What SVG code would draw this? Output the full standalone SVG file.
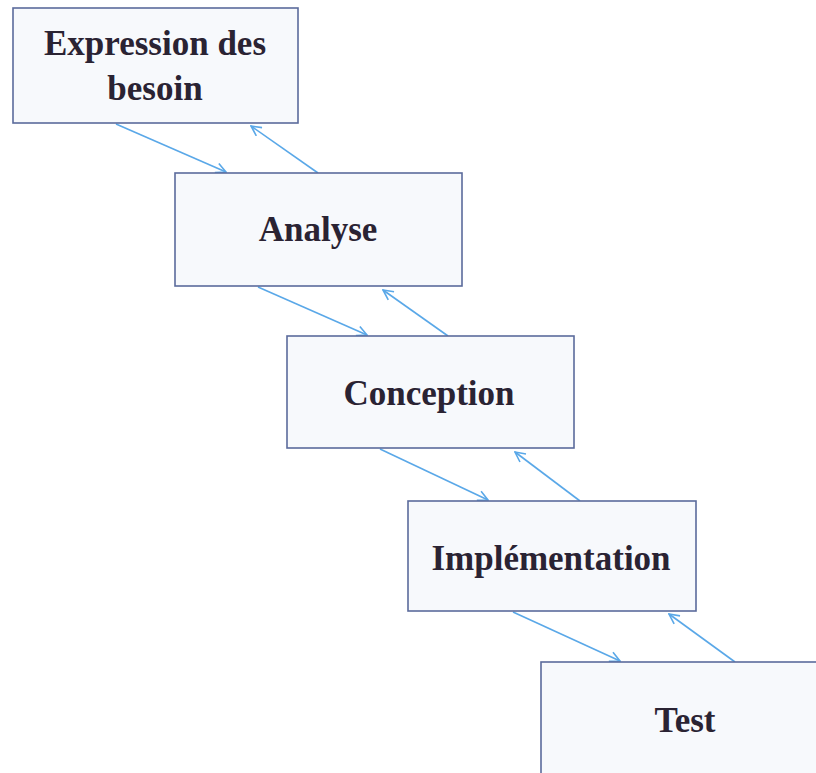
<svg xmlns="http://www.w3.org/2000/svg" width="816" height="773" viewBox="0 0 816 773">
  <style>
    .box { fill: #f7f9fc; stroke: #5b6b9c; stroke-width: 1.6; }
    .label { font-family: "Liberation Serif", "Times New Roman", serif; font-weight: bold; font-size: 35px; fill: #2a2333; text-anchor: middle; }
    .link { fill: none; stroke: #5aa8e8; stroke-width: 1.6; marker-end: url(#head); }
  </style>
  <defs>
    <marker id="head" viewBox="0 0 12 12" refX="11" refY="6" markerWidth="12" markerHeight="12" markerUnits="userSpaceOnUse" orient="auto">
      <path d="M1,1 L11,6 L1,11" fill="none" stroke="#5aa8e8" stroke-width="1.6"/>
    </marker>
  </defs>
  <rect width="816" height="773" fill="#ffffff"/>

  <g id="connectors">
    <line class="link" x1="116" y1="124" x2="226" y2="172"/>
    <line class="link" x1="318" y1="173" x2="251" y2="126"/>
    <line class="link" x1="258" y1="287" x2="367" y2="335"/>
    <line class="link" x1="448" y1="336" x2="383" y2="290"/>
    <line class="link" x1="380" y1="449" x2="488" y2="500"/>
    <line class="link" x1="580" y1="501" x2="515" y2="452"/>
    <line class="link" x1="513" y1="612" x2="620" y2="661"/>
    <line class="link" x1="735" y1="662" x2="669" y2="614"/>
  </g>

  <g id="expression">
    <rect class="box" x="13" y="8" width="285" height="115"/>
    <text class="label" x="155" y="55">Expression des</text>
    <text class="label" x="155" y="100">besoin</text>
  </g>
  <g id="analyse">
    <rect class="box" x="175" y="173" width="287" height="113"/>
    <text class="label" x="318" y="241">Analyse</text>
  </g>
  <g id="conception">
    <rect class="box" x="287" y="336" width="287" height="112"/>
    <text class="label" x="429" y="405">Conception</text>
  </g>
  <g id="implementation">
    <rect class="box" x="408" y="501" width="288" height="110"/>
    <text class="label" x="551" y="570">Implémentation</text>
  </g>
  <g id="test">
    <rect class="box" x="541" y="662" width="290" height="120"/>
    <text class="label" x="685" y="732">Test</text>
  </g>
</svg>
